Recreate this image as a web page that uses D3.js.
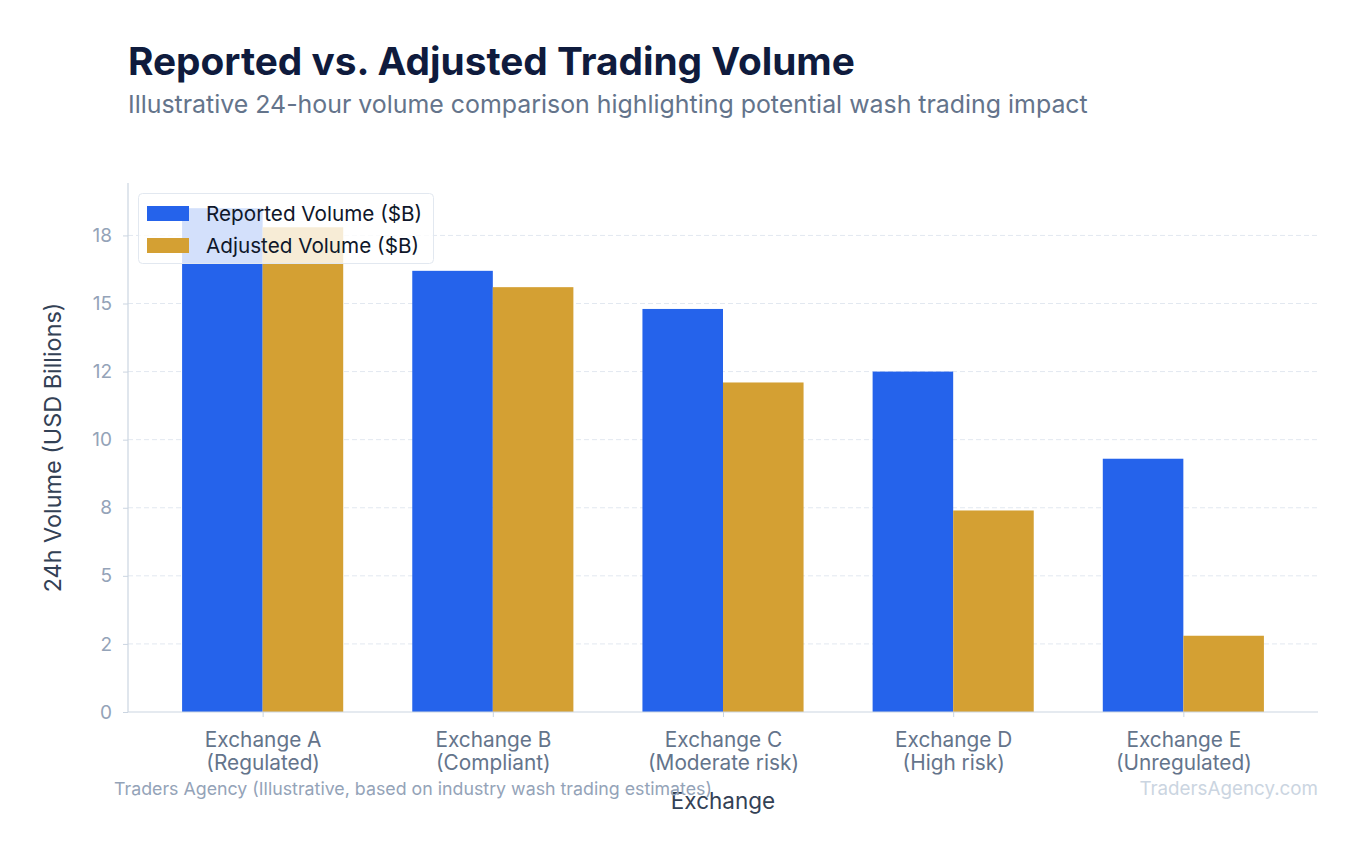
<!DOCTYPE html>
<html>
<head>
<meta charset="utf-8">
<script src="https://d3js.org/d3.v7.min.js"></script>
<style>
  body { margin: 0; background: #fff; }
  svg { display: block; font-family: Inter, "Noto Sans", sans-serif; }
</style>
</head>
<body>
<div id="chart"></div>
<script>
// data
var exchanges = ["Exchange A", "Exchange B", "Exchange C", "Exchange D", "Exchange E"]
var notes = ["(Regulated)", "(Compliant)", "(Moderate risk)", "(High risk)", "(Unregulated)"]
var reported = [18.5, 16.2, 14.8, 12.5, 9.3]
var adjusted = [17.8, 15.6, 12.1, 7.4, 2.8]
var tickValues = [0, 2.5, 5, 7.5, 10, 12.5, 15, 17.5]
var tickLabels = ["0", "2", "5", "8", "10", "12", "15", "18"]
var seriesNames = ["Reported Volume ($B)", "Adjusted Volume ($B)"]
var colors = ["#2563eb", "#d4a033"]

var W = 1363, H = 858
var pLeft = 128, pRight = 1318, pTop = 183, pBottom = 712
var barW = 0.35
var span = exchanges.length - 1 + 2 * barW

var svg = d3.select('#chart').append('svg')
  .attr('width', W).attr('height', H)

var x = d3.scaleLinear()
  .domain([-barW - 0.05 * span, exchanges.length - 1 + barW + 0.05 * span])
  .range([pLeft, pRight])
var y = d3.scaleLinear()
  .domain([0, d3.max(reported) * 1.05])
  .range([pBottom, pTop])

// grid
svg.append('g').selectAll('line')
  .data(tickValues.slice(1))
  .enter().append('line')
  .attr('x1', pLeft).attr('x2', pRight)
  .attr('y1', function(d){ return y(d) }).attr('y2', function(d){ return y(d) })
  .attr('stroke', '#e2e8f0').attr('stroke-width', 1)
  .attr('stroke-dasharray', '5,3')

// bars
var series = [reported, adjusted]
series.forEach(function(vals, s){
  svg.append('g').selectAll('rect')
    .data(vals)
    .enter().append('rect')
    .attr('x', function(d, i){ return x(i + (s === 0 ? -barW : 0)) })
    .attr('width', x(barW) - x(0))
    .attr('y', function(d){ return y(d) })
    .attr('height', function(d){ return pBottom - y(d) })
    .attr('fill', colors[s])
})

// y axis
var yAxis = svg.append('g')
  .attr('transform', 'translate(' + pLeft + ',0)')
  .call(d3.axisLeft(y).tickValues(tickValues).tickFormat(function(d, i){ return tickLabels[i] }).tickSize(5).tickPadding(11))
yAxis.select('.domain').remove()
yAxis.append('line').attr('x1', 0).attr('x2', 0).attr('y1', pTop).attr('y2', pBottom)
  .attr('stroke', '#cbd5e1').attr('stroke-width', 1.2)
yAxis.selectAll('.tick line').attr('stroke', '#cbd5e1')
yAxis.selectAll('.tick text').attr('fill', '#94a3b8').attr('font-size', 19).attr('font-family', 'Inter')

// x axis
var xAxis = svg.append('g')
  .attr('transform', 'translate(0,' + pBottom + ')')
  .call(d3.axisBottom(x).tickValues(d3.range(exchanges.length)).tickFormat('').tickSize(5).tickSizeOuter(0))
xAxis.select('.domain').attr('stroke', '#cbd5e1').attr('stroke-width', 1.2)
  .attr('d', 'M' + pLeft + ',0H' + pRight)
xAxis.selectAll('.tick line').attr('stroke', '#cbd5e1')
var lbl = xAxis.selectAll('.tick').append('text')
  .attr('fill', '#64748b').attr('font-size', 20.8).attr('font-family', 'Inter')
  .attr('text-anchor', 'middle')
lbl.append('tspan').attr('x', 0).attr('y', 35).text(function(d){ return exchanges[d] })
lbl.append('tspan').attr('x', 0).attr('y', 58).text(function(d){ return notes[d] })

// axis titles
svg.append('text')
  .attr('transform', 'translate(61,' + ((pTop + pBottom) / 2) + ') rotate(-90)')
  .attr('text-anchor', 'middle').attr('font-size', 23.4).attr('fill', '#334155')
  .text('24h Volume (USD Billions)')
svg.append('text')
  .attr('x', (pLeft + pRight) / 2).attr('y', 809)
  .attr('text-anchor', 'middle').attr('font-size', 22.5).attr('fill', '#334155')
  .text('Exchange')

// legend
var lg = svg.append('g')
lg.append('rect').attr('x', 138.5).attr('y', 193.5).attr('width', 295).attr('height', 70).attr('rx', 4)
  .attr('fill', '#fff').attr('fill-opacity', 0.8).attr('stroke', '#e2e8f0')
seriesNames.forEach(function(n, i){
  lg.append('rect').attr('x', 147).attr('y', 206 + i * 32).attr('width', 42).attr('height', 15).attr('fill', colors[i])
  lg.append('text').attr('x', 206).attr('y', 214 + i * 32).attr('dy', '0.35em')
    .attr('font-size', 20.7).attr('fill', '#0f172a').text(n)
})

// title block
svg.append('text').attr('x', 128).attr('y', 75)
  .attr('font-size', 38.8).attr('font-weight', 700).attr('fill', '#0f1b3d')
  .text('Reported vs. Adjusted Trading Volume')
svg.append('text').attr('x', 128).attr('y', 113)
  .attr('font-size', 24.9).attr('fill', '#64748b')
  .text('Illustrative 24-hour volume comparison highlighting potential wash trading impact')

// footer
svg.append('text').attr('x', 114).attr('y', 795)
  .attr('font-size', 17.8).attr('fill', '#94a3b8')
  .text('Traders Agency (Illustrative, based on industry wash trading estimates)')
svg.append('text').attr('x', 1318).attr('y', 795).attr('text-anchor', 'end')
  .attr('font-size', 18.8).attr('fill', '#cbd5e1')
  .text('TradersAgency.com')
</script>
</body>
</html>
